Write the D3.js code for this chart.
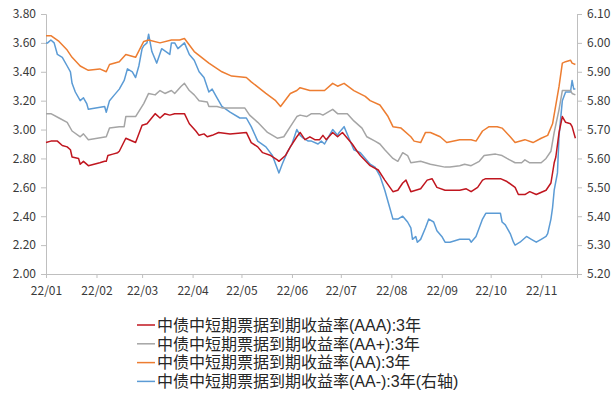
<!DOCTYPE html>
<html>
<head>
<meta charset="utf-8">
<script src="https://cdn.jsdelivr.net/npm/d3@7"></script>
<style>
  html, body { margin: 0; padding: 0; background: #fff; }
  svg { display: block; }
  text { font-family: "Noto Sans CJK SC", "Noto Sans", sans-serif; }
  .legend text { font-family: "Liberation Sans", "Noto Sans CJK SC", sans-serif; }
</style>
</head>
<body>
<svg id="chart" width="614" height="400"></svg>
<script>
// 中债中短期票据到期收益率 (3年), 2022
const leftTicks = [2.00, 2.20, 2.40, 2.60, 2.80, 3.00, 3.20, 3.40, 3.60, 3.80];
const rightTicks = [5.20, 5.30, 5.40, 5.50, 5.60, 5.70, 5.80, 5.90, 6.00, 6.10];
const monthTicks = ["01", "02", "03", "04", "05", "06", "07", "08", "09", "10", "11"];

const seriesNames = [
  "中债中短期票据到期收益率(AAA):3年",
  "中债中短期票据到期收益率(AA+):3年",
  "中债中短期票据到期收益率(AA):3年",
  "中债中短期票据到期收益率(AA-):3年(右轴)"
];

const aaa = [
  ["01-01",2.91],["01-04",2.92],["01-08",2.92],["01-11",2.89],["01-14",2.88],["01-16",2.86],
  ["01-17",2.81],["01-21",2.80],["01-22",2.76],["01-24",2.78],["01-27",2.75],["02-03",2.77],
  ["02-06",2.78],["02-07",2.78],["02-08",2.82],["02-11",2.83],["02-14",2.84],["02-15",2.85],
  ["02-19",2.94],["02-25",2.91],["03-01",3.03],["03-04",3.04],["03-09",3.11],["03-12",3.08],
  ["03-15",3.11],["03-18",3.10],["03-21",3.11],["03-27",3.11],["03-30",3.04],["04-03",2.99],
  ["04-05",2.96],["04-08",2.97],["04-10",2.95],["04-13",2.96],["04-17",2.98],["04-24",2.97],
  ["05-04",2.98],["05-07",2.91],["05-11",2.88],["05-14",2.84],["05-19",2.82],["05-23",2.79],
  ["05-24",2.78],["05-28",2.82],["05-31",2.88],["06-04",2.95],["06-06",2.98],["06-09",2.93],
  ["06-12",2.95],["06-15",2.93],["06-18",2.93],["06-20",2.96],["06-22",2.93],["06-26",2.98],
  ["06-29",2.95],["07-02",2.98],["07-05",2.94],["07-08",2.90],["07-11",2.85],["07-13",2.82],
  ["07-19",2.75],["07-24",2.72],["07-28",2.65],["08-02",2.57],["08-05",2.58],["08-08",2.63],
  ["08-10",2.65],["08-13",2.57],["08-19",2.59],["08-23",2.65],["08-26",2.66],["08-29",2.60],
  ["09-03",2.58],["09-12",2.58],["09-16",2.59],["09-19",2.57],["09-23",2.60],["09-26",2.65],
  ["09-28",2.66],["10-07",2.66],["10-11",2.64],["10-16",2.60],["10-18",2.55],["10-22",2.55],
  ["10-25",2.57],["10-29",2.55],["11-04",2.58],["11-07",2.63],["11-09",2.77],["11-10",2.81],
  ["11-12",2.98],["11-14",3.09],["11-16",3.05],["11-19",3.04],["11-20",3.02],["11-22",2.94]
];

const aaPlus = [
  ["01-01",3.11],["01-04",3.11],["01-09",3.08],["01-14",3.05],["01-17",2.99],["01-22",2.95],
  ["01-24",2.97],["01-27",2.93],["02-07",2.95],["02-09",3.01],["02-15",3.02],["02-18",3.02],
  ["02-19",3.09],["02-25",3.09],["03-02",3.18],["03-05",3.25],["03-09",3.24],["03-12",3.27],
  ["03-15",3.25],["03-19",3.27],["03-21",3.25],["03-25",3.30],["03-27",3.32],["03-30",3.27],
  ["04-02",3.24],["04-05",3.20],["04-10",3.19],["04-11",3.16],["04-16",3.16],["04-19",3.15],
  ["05-03",3.15],["05-06",3.10],["05-11",3.05],["05-17",2.98],["05-23",2.94],["05-27",2.95],
  ["05-31",3.02],["06-04",3.09],["06-06",3.10],["06-10",3.09],["06-13",3.11],["06-18",3.11],
  ["06-20",3.10],["06-26",3.14],["06-29",3.11],["07-05",3.11],["07-09",3.06],["07-14",3.01],
  ["07-17",2.95],["07-22",2.92],["07-25",2.90],["07-28",2.86],["08-02",2.80],["08-05",2.78],
  ["08-08",2.84],["08-11",2.82],["08-13",2.77],["08-19",2.78],["08-25",2.76],["09-03",2.74],
  ["09-06",2.74],["09-12",2.75],["09-15",2.76],["09-19",2.75],["09-24",2.78],["09-27",2.82],
  ["10-04",2.83],["10-08",2.82],["10-11",2.80],["10-16",2.77],["10-20",2.77],["10-22",2.79],
  ["10-25",2.77],["11-01",2.77],["11-04",2.80],["11-07",2.85],["11-09",2.98],["11-12",3.14],
  ["11-14",3.27],["11-19",3.27],["11-20",3.25],["11-22",3.24]
];

const aa = [
  ["01-01",3.65],["01-04",3.65],["01-09",3.61],["01-14",3.55],["01-17",3.50],["01-22",3.44],
  ["01-27",3.41],["02-03",3.42],["02-07",3.40],["02-09",3.45],["02-15",3.47],["02-19",3.52],
  ["02-25",3.50],["03-02",3.61],["03-05",3.62],["03-12",3.60],["03-19",3.62],["03-24",3.62],
  ["03-27",3.63],["04-02",3.54],["04-11",3.46],["04-19",3.40],["04-25",3.37],["05-04",3.36],
  ["05-07",3.33],["05-16",3.25],["05-22",3.20],["05-25",3.16],["05-31",3.25],["06-04",3.27],
  ["06-06",3.29],["06-12",3.27],["06-21",3.27],["06-26",3.32],["06-29",3.30],["07-03",3.32],
  ["07-09",3.27],["07-16",3.23],["07-19",3.20],["07-25",3.17],["07-30",3.09],["08-02",3.02],
  ["08-07",3.01],["08-13",2.95],["08-15",2.92],["08-19",2.91],["08-22",2.98],["08-25",2.98],
  ["08-31",2.95],["09-04",2.91],["09-12",2.93],["09-19",2.93],["09-22",2.92],["09-26",2.99],
  ["09-30",3.02],["10-05",3.02],["10-08",3.01],["10-13",2.95],["10-16",2.91],["10-22",2.93],
  ["10-27",2.91],["11-01",2.94],["11-05",2.96],["11-08",3.04],["11-12",3.30],["11-14",3.46],
  ["11-16",3.47],["11-19",3.48],["11-20",3.46],["11-22",3.45]
];

// AA- is plotted against the right-hand axis
const aaMinus = [
  ["01-01",6.00],["01-02",6.00],["01-04",6.01],["01-06",6.00],["01-08",5.96],["01-11",5.95],
  ["01-14",5.92],["01-16",5.90],["01-17",5.86],["01-19",5.83],["01-22",5.80],["01-24",5.81],
  ["01-26",5.79],["01-27",5.77],["02-06",5.78],["02-07",5.76],["02-09",5.80],["02-12",5.82],
  ["02-15",5.84],["02-18",5.87],["02-20",5.91],["02-23",5.90],["02-25",5.88],["02-27",5.92],
  ["03-01",5.98],["03-02",5.99],["03-04",6.00],["03-05",6.03],["03-07",5.97],["03-10",5.93],
  ["03-13",5.98],["03-18",5.96],["03-19",6.00],["03-21",6.00],["03-23",5.98],["03-27",6.00],
  ["03-30",5.96],["04-02",5.94],["04-05",5.90],["04-08",5.88],["04-11",5.83],["04-13",5.84],
  ["04-16",5.81],["04-19",5.78],["04-24",5.76],["04-30",5.74],["05-04",5.74],["05-07",5.71],
  ["05-11",5.66],["05-16",5.64],["05-20",5.61],["05-24",5.55],["05-26",5.58],["05-29",5.62],
  ["06-01",5.65],["06-04",5.70],["06-06",5.68],["06-08",5.67],["06-11",5.66],["06-13",5.66],
  ["06-17",5.65],["06-19",5.66],["06-21",5.65],["06-24",5.68],["06-26",5.70],["06-29",5.68],
  ["06-30",5.69],["07-03",5.71],["07-06",5.67],["07-09",5.63],["07-13",5.62],["07-19",5.58],
  ["07-22",5.57],["07-25",5.54],["07-28",5.49],["07-31",5.43],["08-02",5.39],["08-05",5.39],
  ["08-08",5.40],["08-11",5.38],["08-13",5.36],["08-14",5.32],["08-16",5.33],["08-17",5.31],
  ["08-19",5.32],["08-22",5.36],["08-24",5.39],["08-27",5.38],["08-29",5.35],["09-01",5.33],
  ["09-03",5.31],["09-06",5.31],["09-12",5.32],["09-14",5.32],["09-18",5.32],["09-19",5.31],
  ["09-22",5.33],["09-24",5.36],["09-26",5.39],["09-28",5.41],["10-07",5.41],["10-08",5.38],
  ["10-10",5.37],["10-13",5.34],["10-15",5.31],["10-16",5.30],["10-19",5.31],["10-23",5.33],
  ["10-26",5.32],["10-29",5.31],["11-01",5.32],["11-04",5.33],["11-05",5.34],["11-07",5.39],
  ["11-08",5.43],["11-09",5.49],["11-11",5.55],["11-12",5.68],["11-14",5.80],["11-16",5.83],
  ["11-19",5.83],["11-20",5.87],["11-21",5.84],["11-22",5.84]
];

const seriesColors = ["#c0161f", "#a5a5a5", "#ed7d31", "#5b9bd5"];

const svg = d3.select("#chart");
const parse = d3.timeParse("%Y-%m-%d");
const toDate = s => parse("2022-" + s);

const plot = { left: 46, right: 577, top: 14, bottom: 274 };
const axisColor = "#bfbfbf";
const textColor = "#3a3a3a";

const x = d3.scaleTime()
  .domain([toDate("01-01"), toDate("11-23")])
  .range([plot.left, plot.right]);
const yL = d3.scaleLinear().domain([2.0, 3.8]).range([plot.bottom, plot.top]);
const yR = d3.scaleLinear().domain([5.2, 6.1]).range([plot.bottom, plot.top]);

function styleAxis(g) {
  g.selectAll(".domain").attr("stroke", axisColor);
  g.selectAll(".tick line").attr("stroke", axisColor);
  g.selectAll(".tick text")
    .attr("fill", textColor)
    .style("font-size", "12px");
}

// left axis
svg.append("g")
  .attr("transform", `translate(${plot.left},0)`)
  .call(d3.axisLeft(yL).tickValues(leftTicks).tickFormat(d3.format(".2f")).tickSizeOuter(0).tickSize(5).tickPadding(5))
  .call(styleAxis);

// right axis
svg.append("g")
  .attr("transform", `translate(${plot.right},0)`)
  .call(d3.axisRight(yR).tickValues(rightTicks).tickFormat(d3.format(".2f")).tickSizeOuter(0).tickSize(5).tickPadding(5))
  .call(styleAxis);

// bottom axis, one tick per month
svg.append("g")
  .attr("transform", `translate(0,${plot.bottom})`)
  .call(d3.axisBottom(x)
    .tickValues(monthTicks.map(m => toDate(m + "-01")))
    .tickFormat(d3.timeFormat("%y/%m"))
    .tickSizeOuter(0).tickSize(4).tickPadding(8))
  .call(styleAxis);

const lineL = d3.line().x(d => x(toDate(d[0]))).y(d => yL(d[1]));
const lineR = d3.line().x(d => x(toDate(d[0]))).y(d => yR(d[1]));

const layers = [
  { data: aaa, gen: lineL, color: seriesColors[0] },
  { data: aaPlus, gen: lineL, color: seriesColors[1] },
  { data: aa, gen: lineL, color: seriesColors[2] },
  { data: aaMinus, gen: lineR, color: seriesColors[3] }
];

// blue underneath so the left-axis lines sit on top where they cross
[3, 1, 2, 0].forEach(i => {
  const s = layers[i];
  svg.append("path")
    .attr("d", s.gen(s.data))
    .attr("fill", "none")
    .attr("stroke", s.color)
    .attr("stroke-width", 1.5)
    .attr("stroke-linejoin", "round");
});

// legend
const legend = svg.append("g").attr("class", "legend").attr("transform", "translate(137,325)");
seriesNames.forEach((name, i) => {
  const row = legend.append("g").attr("transform", `translate(0,${i * 18.8})`);
  row.append("line")
    .attr("x1", 0).attr("x2", 18).attr("y1", 0).attr("y2", 0)
    .attr("stroke", seriesColors[i]).attr("stroke-width", 1.5);
  row.append("text")
    .attr("x", 20).attr("y", 0).attr("dy", "0.36em")
    .attr("fill", "#262626")
    .style("font-size", "16px")
    .text(name);
});
</script>
</body>
</html>
